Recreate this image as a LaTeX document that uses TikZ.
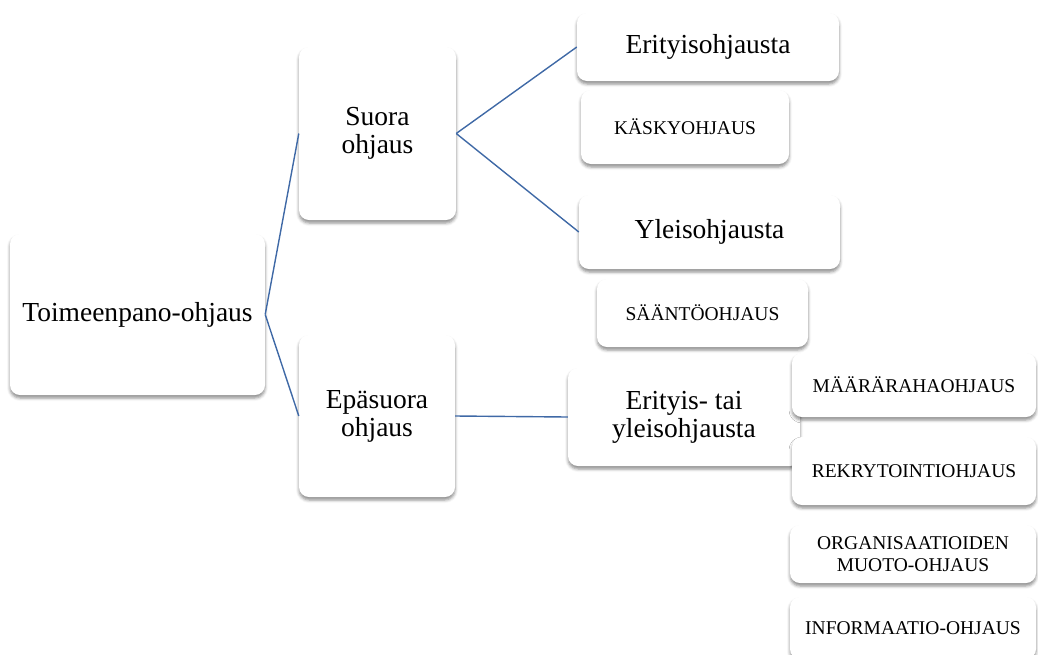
\documentclass[tikz,border=0pt]{standalone}
\usepackage{fontspec}
\setmainfont{Liberation Serif}
\usetikzlibrary{shadows.blur}
\definecolor{linkblue}{HTML}{3F69A6}
\tikzset{
  box/.style={fill=white, rounded corners=10pt, inner sep=2pt, align=center,
    blur shadow={shadow xshift=0pt, shadow yshift=-3pt, shadow blur radius=3pt, shadow opacity=45}},
  big/.style={box, font=\fontsize{27.5}{28}\selectfont},
  small/.style={box, font=\fontsize{19.5}{21.5}\selectfont},
  link/.style={draw=linkblue, line width=1.4pt}
}
\begin{document}
\begin{tikzpicture}[x=1pt,y=-1pt]
\useasboundingbox (0,0) rectangle (1038,654);
\node[big, minimum width=255pt, minimum height=161pt] (t) at (137.5,314.5) {Toimeenpano-ohjaus};
\node[big, minimum width=157pt, minimum height=173pt] (s) at (377.5,133.5) {Suora\\ohjaus};
\node[big, minimum width=156pt, minimum height=162pt] (e) at (377,416) {Epäsuora\\ohjaus};
\node[big, minimum width=262pt, minimum height=68pt] (s1) at (708,47) {Erityisohjausta};
\node[small, minimum width=208pt, minimum height=74pt] (k) at (685,127) {KÄSKYOHJAUS};
\node[big, minimum width=261pt, minimum height=74pt] (s2) at (709.5,232) {Yleisohjausta};
\node[small, minimum width=211pt, minimum height=68pt] (sa) at (702.5,313) {SÄÄNTÖOHJAUS};
\node[big, minimum width=232pt, minimum height=98pt] (e1) at (684,417) {Erityis- tai\\yleisohjausta};
\node[small, minimum width=244pt, minimum height=64pt] (m) at (914,385) {MÄÄRÄRAHAOHJAUS};
\node[small, minimum width=244pt, minimum height=68pt] (r) at (914,471) {REKRYTOINTIOHJAUS};
\node[small, minimum width=246pt, minimum height=58pt] (o) at (913,554) {ORGANISAATIOIDEN\\MUOTO-OHJAUS};
\node[small, minimum width=246pt, minimum height=62pt] (i) at (913,628) {INFORMAATIO-OHJAUS};
\draw[link] (t.east) -- (s.west);
\draw[link] (t.east) -- (e.west);
\draw[link] (s.east) -- (s1.west);
\draw[link] (s.east) -- (s2.west);
\draw[link] (e.east) -- (e1.west);
\end{tikzpicture}
\end{document}
